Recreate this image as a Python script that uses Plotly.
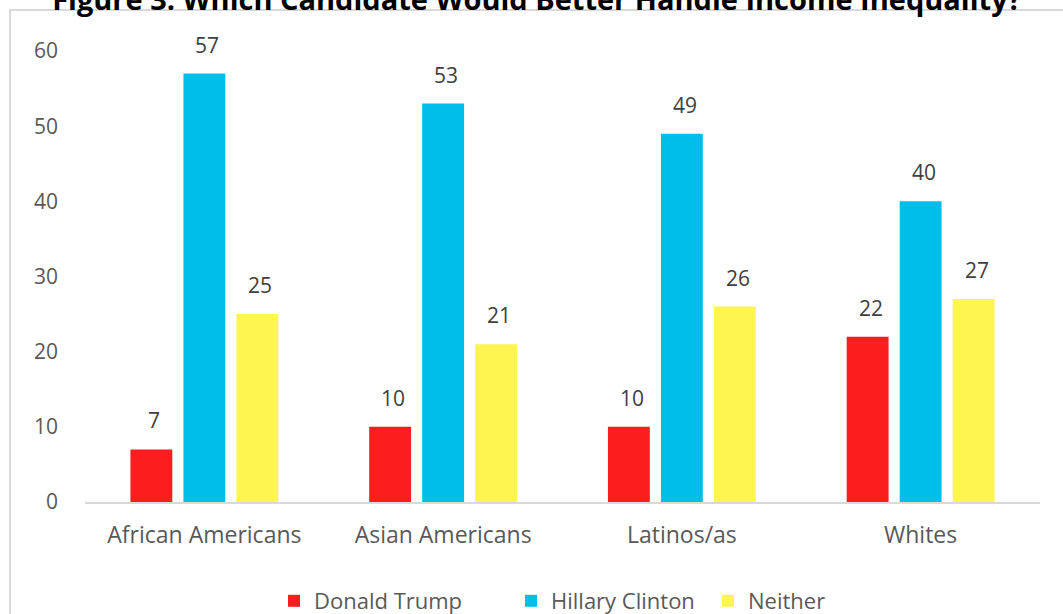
import plotly.graph_objects as go

groups = ["African Americans", "Asian Americans", "Latinos/as", "Whites"]
trump = [7, 10, 10, 22]
clinton = [57, 53, 49, 40]
neither = [25, 21, 26, 27]

series = [
    ("Donald Trump", trump, "#FC1E1E", "legend", 274),
    ("Hillary Clinton", clinton, "#00BEEA", "legend2", 511),
    ("Neither", neither, "#FFF550", "legend3", 708),
]

fig = go.Figure()
for name, vals, color, leg, _ in series:
    fig.add_trace(go.Bar(
        x=groups, y=vals, name=name, legend=leg,
        marker=dict(color=color, line=dict(width=0)),
        cliponaxis=False,
    ))

legend_style = dict(orientation="h", xref="container", xanchor="left",
                    y=(614 - 601) / 614, yref="container", yanchor="middle",
                    font=dict(size=22, color="#595959"), itemwidth=30,
                    bgcolor="rgba(0,0,0,0)")

fig.update_layout(
    width=1063, height=614,
    margin=dict(l=85, r=23, t=51, b=112, autoexpand=False),
    paper_bgcolor="white", plot_bgcolor="white",
    barmode="group", bargap=0.334, bargroupgap=0.21,
    font=dict(family="Open Sans", color="#595959"),
    showlegend=True,
    title=dict(text="<b>Figure 3: Which Candidate Would Better Handle Income Inequality?</b>",
               x=0.505, xanchor="center", y=1.0, yref="container", yanchor="middle",
               font=dict(family="Open Sans", size=29, color="#000000")),
    shapes=[dict(type="rect", xref="paper", yref="paper",
                 x0=-75/955, x1=1.1, y0=-0.3, y1=(502 - 10) / 451,
                 line=dict(color="#d9d9d9", width=2), fillcolor="rgba(0,0,0,0)", layer="below")],
)
for name, vals, color, leg, left in series:
    fig.update_layout({leg: dict(legend_style, x=left / 1063)})

# Value labels above each bar
offsets = {"Donald Trump": -1, "Hillary Clinton": 0, "Neither": 1}
for name, vals, color, leg, _ in series:
    for g, v in zip(groups, vals):
        fig.add_annotation(
            x=g, y=v, text=str(v), showarrow=False,
            xshift=offsets[name] * 53 + 3, yshift=29, yanchor="middle",
            font=dict(family="Open Sans", size=21, color="#404040"),
        )

fig.update_xaxes(showline=True, linecolor="#d9d9d9", linewidth=1.5, ticks="",
                 tickfont=dict(size=23, color="#595959"), ticklabelstandoff=12,
                 showgrid=False)
fig.update_yaxes(range=[0, 60], dtick=10, showgrid=False, zeroline=False, showline=False,
                 tickfont=dict(size=21, color="#595959"), ticklabelstandoff=26)

fig.write_html("out.html")
